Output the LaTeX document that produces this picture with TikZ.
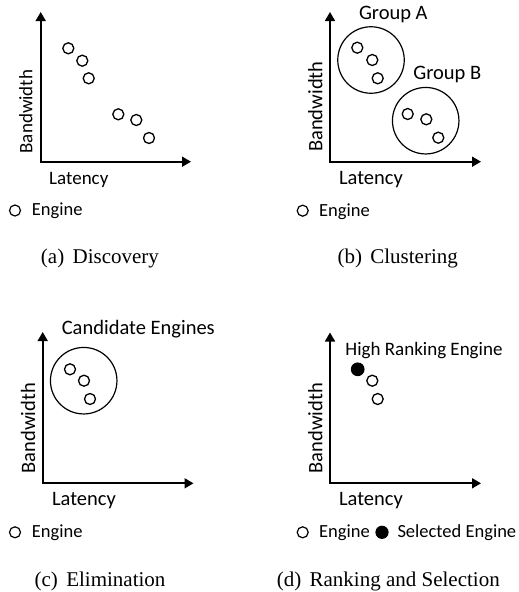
\documentclass[tikz,border=0pt]{standalone}
\usepackage{fontspec}
\setmainfont{Carlito}
\newfontfamily\capfont{Liberation Serif}
\usetikzlibrary{arrows.meta}

\begin{document}
\begin{tikzpicture}[x=1pt,y=-1pt,
        engine/.style={draw,circle,line width=1.3pt,minimum size=11pt,inner sep=0},
        selected/.style={draw,circle,fill=black,line width=1.2pt,minimum size=12.5pt,inner sep=0},
        legendmark/.style={draw,circle,line width=1.2pt,minimum size=11pt,inner sep=0},
        group/.style={draw,circle,line width=1.2pt,minimum size=66.5pt,inner sep=0},
        axis/.style={line width=1.7pt,line join=miter,{Triangle[length=9pt,width=10pt]}-{Triangle[length=9pt,width=10pt]}},
        axlbl/.style={inner sep=0,anchor=base,font=\fontsize{20.5}{24}\selectfont},
        small/.style={inner sep=0,anchor=base,font=\fontsize{19}{22}\selectfont},
        legend/.style={inner sep=0,anchor=base west,font=\fontsize{18.5}{22}\selectfont},
        caption/.style={inner sep=0,anchor=base,font=\capfont\fontsize{21}{25}\selectfont}]
        \useasboundingbox (0,0) rectangle (519,592);

        % (a) Discovery
        \coordinate (aY) at (40.7,12);
        \coordinate (aO) at (40.7,161.7);
        \coordinate (aX) at (191,161.7);
        \draw[axis] (aY) -- (aO) -- (aX);
        \node[small,rotate=90] (aBw) at (32.3,111.5) {Bandwidth};
        \node[small] (aLat) at (78.8,184) {Latency};
        \node[engine] (aE1) at (68.3,48.3) {};
        \node[engine] (aE2) at (82.3,60.7) {};
        \node[engine] (aE3) at (88.7,78.3) {};
        \node[engine] (aE4) at (118.3,114.3) {};
        \node[engine] (aE5) at (136.3,120) {};
        \node[engine] (aE6) at (149,138) {};
        \node[legendmark] (aL1) at (15,210.5) {};
        \node[legend] (aLt1) at (31.7,215) {Engine};
        \node[caption] (aCap) at (100,263.3) {(a)\hspace{0.4em}Discovery};

        % (b) Clustering
        \coordinate (bY) at (330,12);
        \coordinate (bO) at (330,161.7);
        \coordinate (bX) at (481,161.7);
        \draw[axis] (bY) -- (bO) -- (bX);
        \node[axlbl,rotate=90] (bBw) at (322.3,106.7) {Bandwidth};
        \node[axlbl] (bLat) at (371,184.3) {Latency};
        \node[group] (bGA) at (371,60) {};
        \node[group] (bGB) at (425.7,120.7) {};
        \node[axlbl] (bGAt) at (393.3,19.3) {Group A};
        \node[axlbl] (bGBt) at (447.3,79) {Group B};
        \node[engine] (bE1) at (357.3,47.7) {};
        \node[engine] (bE2) at (372.3,60) {};
        \node[engine] (bE3) at (377.7,78.3) {};
        \node[engine] (bE4) at (407.7,114) {};
        \node[engine] (bE5) at (426.3,119.3) {};
        \node[engine] (bE6) at (438.3,137.7) {};
        \node[legendmark] (bL1) at (302.7,210.7) {};
        \node[legend] (bLt1) at (319,216) {Engine};
        \node[caption] (bCap) at (397.7,263.3) {(b)\hspace{0.4em}Clustering};

        % (c) Elimination
        \coordinate (cY) at (42.7,332);
        \coordinate (cO) at (42.7,483.3);
        \coordinate (cX) at (193.5,483.3);
        \draw[axis] (cY) -- (cO) -- (cX);
        \node[axlbl,rotate=90] (cBw) at (35,428.3) {Bandwidth};
        \node[axlbl] (cLat) at (84,505.7) {Latency};
        \node[group] (cG) at (83.7,380.7) {};
        \node[axlbl] (cGt) at (138.3,334.3) {Candidate Engines};
        \node[engine] (cE1) at (70,369.3) {};
        \node[engine] (cE2) at (84,380.7) {};
        \node[engine] (cE3) at (90,399) {};
        \node[legendmark] (cL1) at (15,532.3) {};
        \node[legend] (cLt1) at (31.7,537.3) {Engine};
        \node[caption] (cCap) at (100,586) {(c)\hspace{0.4em}Elimination};

        % (d) Ranking and Selection
        \coordinate (dY) at (330,332.5);
        \coordinate (dO) at (330,483.3);
        \coordinate (dX) at (481,483.3);
        \draw[axis] (dY) -- (dO) -- (dX);
        \node[axlbl,rotate=90] (dBw) at (322.3,428.3) {Bandwidth};
        \node[axlbl] (dLat) at (371,505.7) {Latency};
        \node[small] (dSt) at (424,355.7) {High Ranking Engine};
        \node[selected] (dS1) at (357.7,369.3) {};
        \node[engine] (dE2) at (372.3,380.7) {};
        \node[engine] (dE3) at (377.7,399) {};
        \node[legendmark] (dL1) at (302.7,532.3) {};
        \node[legend] (dLt1) at (319,537.3) {Engine};
        \node[selected,minimum size=12pt] (dL2) at (382,532.3) {};
        \node[legend] (dLt2) at (397.3,537.3) {Selected Engine};
        \node[caption] (dCap) at (388.3,586) {(d)\hspace{0.4em}Ranking and Selection};
\end{tikzpicture}
\end{document}
